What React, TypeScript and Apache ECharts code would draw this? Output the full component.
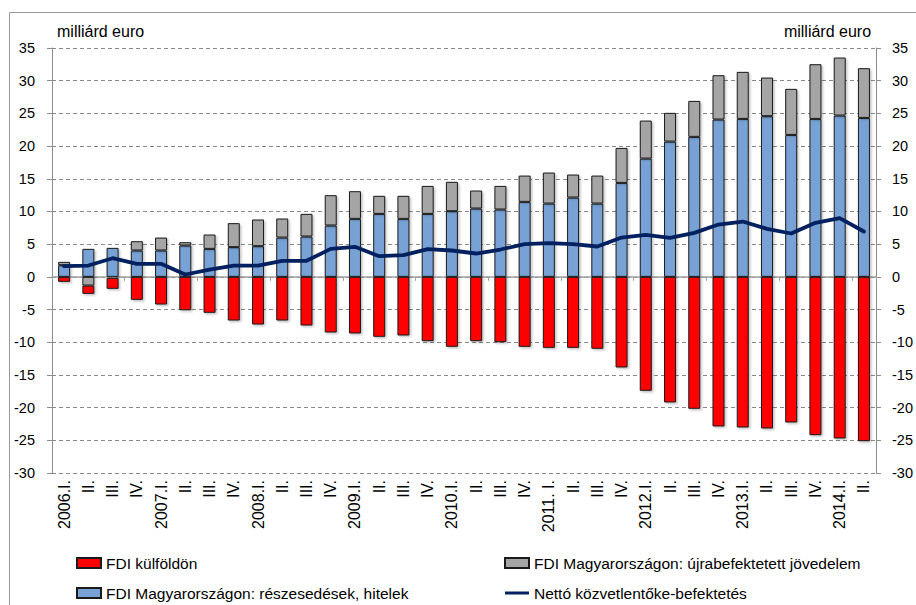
import React, { useEffect, useRef } from "react";
import * as echarts from "echarts";

const categories = [
  "2006.I.", "II.", "III.", "IV.",
  "2007.I.", "II.", "III.", "IV.",
  "2008.I.", "II.", "III.", "IV.",
  "2009.I.", "II.", "III.", "IV.",
  "2010.I.", "II.", "III.", "IV.",
  "2011. I.", "II.", "III.", "IV.",
  "2012.I.", "II.", "III.", "IV.",
  "2013.I.", "II.", "III.", "IV.",
  "2014.I.", "II.",
];

// FDI Magyarországon: részesedések, hitelek (blue)
const equityLoans = [
  1.78, 4.28, 4.43, 4.03, 4.03, 4.79, 4.28, 4.54, 4.69, 6.01, 6.17, 7.85,
  8.87, 9.63, 8.87, 9.63, 10.04, 10.45, 10.3, 11.47, 11.21, 12.13, 11.21, 14.37,
  18.09, 20.69, 21.41, 24.06, 24.16, 24.57, 21.71, 24.16, 24.67, 24.31,
];

// FDI Magyarországon: újrabefektetett jövedelem (gray)
const reinvested = [
  0.51, -1.33, -0.15, 1.42, 1.98, 0.51, 2.19, 3.67, 4.08, 2.91, 3.46, 4.64,
  4.23, 2.76, 3.52, 4.28, 4.49, 2.75, 3.61, 4.02, 4.74, 3.52, 4.28, 5.35,
  5.81, 4.39, 5.5, 6.78, 7.19, 5.91, 7.04, 8.36, 8.87, 7.6,
];

// FDI külföldön (red)
const abroad = [
  -0.76, -1.27, -1.68, -3.52, -4.23, -5.1, -5.5, -6.68, -7.29, -6.68, -7.44, -8.51,
  -8.66, -9.17, -8.97, -9.84, -10.7, -9.84, -9.99, -10.7, -10.86, -10.86, -11.0, -13.86,
  -17.43, -19.21, -20.18, -22.88, -23.04, -23.19, -22.27, -24.21, -24.72, -25.13,
];

// Nettó közvetlentőke-befektetés (line)
const netFDI = [
  1.63, 1.73, 2.85, 1.99, 1.99, 0.36, 1.12, 1.73, 1.73, 2.45, 2.45, 4.28,
  4.59, 3.16, 3.31, 4.23, 4.03, 3.57, 4.18, 4.99, 5.15, 4.99, 4.64, 6.01,
  6.42, 5.96, 6.73, 8.0, 8.46, 7.34, 6.63, 8.26, 8.97, 6.93,
];

const NAME_RED = "FDI külföldön";
const NAME_BLUE = "FDI Magyarországon: részesedések, hitelek";
const NAME_GRAY = "FDI Magyarországon: újrabefektetett jövedelem";
const NAME_LINE = "Nettó közvetlentőke-befektetés";

const FONT = "'Liberation Sans', Arial, sans-serif";
const AXIS_GRAY = "#8c8c8c";

export default function App() {
  const ref = useRef<HTMLDivElement>(null);

  useEffect(() => {
    if (!ref.current) return;
    const chart = echarts.init(ref.current, undefined, { renderer: "svg" });

    const barStyle = (color: string) => ({
      color,
      borderColor: "#1a1a1a",
      borderWidth: 1,
      shadowColor: "rgba(0,0,0,0.25)",
      shadowBlur: 2,
      shadowOffsetX: 1.5,
      shadowOffsetY: 1.5,
    });

    const yAxisBase = {
      type: "value" as const,
      min: -30,
      max: 35,
      interval: 5,
      axisLine: { show: true, lineStyle: { color: AXIS_GRAY, width: 1 } },
      axisTick: { show: true, length: 5, lineStyle: { color: AXIS_GRAY } },
      name: "milliárd euro",
      nameLocation: "end" as const,
      nameGap: 9,
    };

    const legendBase = {
      top: 555,
      height: 120,
      padding: 0,
      orient: "vertical" as const,
      itemWidth: 24,
      itemHeight: 10,
      itemGap: 14,
      textStyle: { fontSize: 15.5, color: "#000", fontFamily: FONT },
    };

    chart.setOption({
      animation: false,
      textStyle: { fontFamily: FONT },
      grid: { left: 52, right: 34, top: 48, bottom: 132, containLabel: false },
      graphic: [
        {
          type: "rect",
          shape: { x: 9.5, y: 12.5, width: 1000, height: 700 },
          style: { fill: "none", stroke: "#9a9a9a", lineWidth: 1 },
          silent: true,
        },
      ],
      legend: [
        {
          ...legendBase,
          left: 76,
          data: [
            { name: NAME_RED, icon: "rect" },
            { name: NAME_BLUE, icon: "rect" },
          ],
        },
        {
          ...legendBase,
          left: 504,
          data: [
            { name: NAME_GRAY, icon: "rect" },
            { name: NAME_LINE, icon: "path://M0 0H24V3H0Z" },
          ],
        },
      ],
      xAxis: [
        {
          type: "category",
          data: categories,
          position: "bottom",
          axisLine: { show: false, onZero: false },
          axisTick: { show: false },
          axisLabel: {
            rotate: 90,
            fontSize: 16,
            margin: 7,
            color: "#000",
            interval: 0,
            fontFamily: FONT,
          },
          splitLine: { show: false },
        },
        {
          type: "category",
          data: categories,
          position: "top",
          axisLine: { show: true, onZero: true, lineStyle: { color: "#a0a0a0", width: 1.5 } },
          axisTick: { show: true, inside: true, length: 4, lineStyle: { color: "#a0a0a0" } },
          axisLabel: { show: false },
          splitLine: { show: false },
        },
      ],
      yAxis: [
        {
          ...yAxisBase,
          position: "left",
          nameTextStyle: { align: "left", fontSize: 16, color: "#000", padding: [0, 0, 0, 5], fontFamily: FONT },
          axisLabel: { fontSize: 14.5, margin: 17, color: "#000", fontFamily: FONT },
          splitLine: {
            show: true,
            lineStyle: { color: "#8a8a8a", type: [4, 3], width: 1 },
          },
        },
        {
          ...yAxisBase,
          position: "right",
          nameTextStyle: { align: "right", fontSize: 16, color: "#000", padding: [0, 5, 0, 0], fontFamily: FONT },
          axisLabel: { fontSize: 14.5, margin: 16, color: "#000", fontFamily: FONT },
          splitLine: { show: false },
        },
      ],
      series: [
        {
          name: NAME_BLUE,
          type: "bar",
          stack: "fdi",
          barWidth: 12,
          data: equityLoans,
          itemStyle: barStyle("#78a2d6"),
        },
        {
          name: NAME_GRAY,
          type: "bar",
          stack: "fdi",
          barWidth: 12,
          data: reinvested,
          itemStyle: barStyle("#a5a5a5"),
        },
        {
          name: NAME_RED,
          type: "bar",
          stack: "fdi",
          barWidth: 12,
          data: abroad,
          itemStyle: barStyle("#ff0000"),
        },
        {
          name: NAME_LINE,
          type: "line",
          data: netFDI,
          symbol: "none",
          color: "#002060",
          lineStyle: { color: "#002060", width: 3.8, join: "round", cap: "round" },
          itemStyle: { color: "#002060" },
          z: 5,
        },
      ],
    });

    return () => chart.dispose();
  }, []);

  return (
    <div
      ref={ref}
      style={{ position: "fixed", left: 0, top: 0, width: 916, height: 605, background: "#fff" }}
    />
  );
}
